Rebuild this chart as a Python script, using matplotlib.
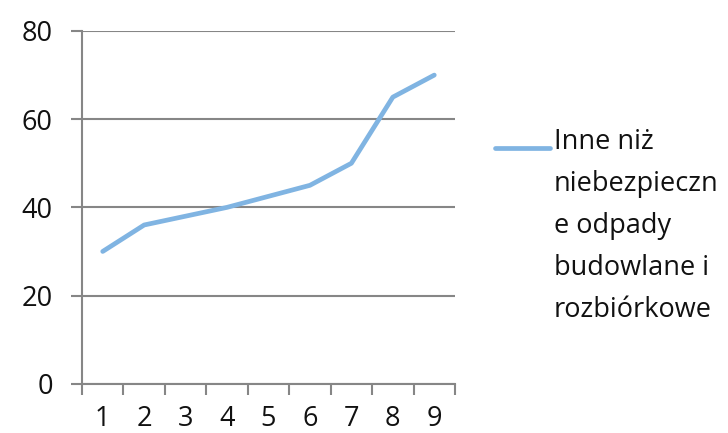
import matplotlib
matplotlib.use("Agg")
import matplotlib.pyplot as plt
from matplotlib.lines import Line2D

categories = [1, 2, 3, 4, 5, 6, 7, 8, 9]
values = [30, 36, 38, 40, 42.5, 45, 50, 65, 70]
series_label = "Inne niż\nniebezpieczn\ne odpady\nbudowlane i\nrozbiórkowe"
yticks = [0, 20, 40, 60, 80]

plt.rcParams['font.family'] = ['Open Sans', 'DejaVu Sans']
GRAY = '#868686'
LINE = '#80B4E2'
TXT = '#111111'
FS = 19.5

fig = plt.figure(figsize=(7.28, 4.33), dpi=100)
ax = fig.add_axes([82/728, (433-383.7)/433, (455-82)/728, (383.7-31)/433])

x = list(range(1, len(categories) + 1))
ax.plot(x, values, color=LINE, lw=3.4, solid_capstyle='round', solid_joinstyle='round', zorder=3)

ax.set_xlim(0.5, len(categories) + 0.5)
ax.set_ylim(0, 80)
ax.set_yticks(yticks)
ax.set_yticklabels([str(v) for v in yticks])
ax.set_xticks(x)
ax.set_xticklabels([str(c) for c in categories])
ax.set_xticks([i + 0.5 for i in range(0, len(categories) + 1)], minor=True)

ax.yaxis.grid(True, color=GRAY, lw=1.5, zorder=1)
ax.set_axisbelow(True)
for s in ['top', 'right']:
    ax.spines[s].set_visible(False)
for s in ['left', 'bottom']:
    ax.spines[s].set_color(GRAY)
    ax.spines[s].set_linewidth(1.5)

ax.tick_params(axis='y', which='major', direction='out', length=8, width=1.5, color=GRAY,
               pad=13, labelsize=FS, labelcolor=TXT)
ax.tick_params(axis='x', which='major', length=0, pad=15, labelsize=FS, labelcolor=TXT)
ax.tick_params(axis='x', which='minor', direction='out', length=8, width=1.5, color=GRAY)

# legend
fig.add_artist(Line2D([495/728, 550/728], [1 - 148.3/433, 1 - 148.3/433], color=LINE, lw=3.4,
                      solid_capstyle='round'))
fig.text(554/728, 1 - 128/433, series_label, fontsize=FS, color=TXT, va='top', ha='left',
         linespacing=1.67)

fig.savefig("out.png", dpi=100)
